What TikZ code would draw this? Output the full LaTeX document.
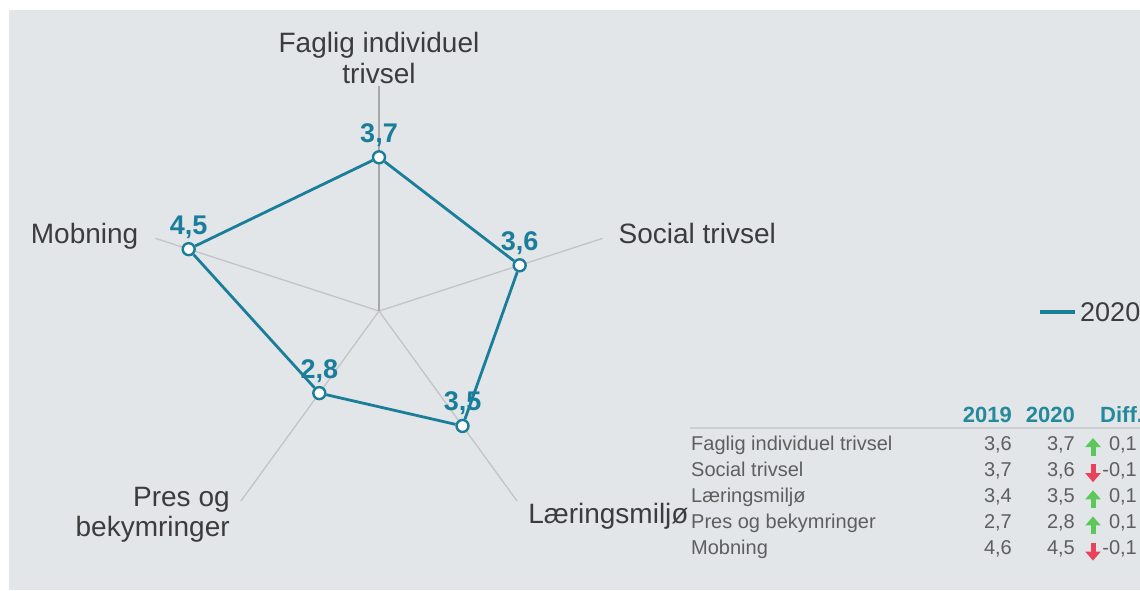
\documentclass[tikz,border=0pt]{standalone}
\usepackage{fontspec}
\setmainfont{Liberation Sans}
\usetikzlibrary{positioning,calc,arrows.meta}

\definecolor{panel}{HTML}{E2E6E9}
\definecolor{chartteal}{HTML}{1A7E9B}
\definecolor{headteal}{HTML}{23899B}
\definecolor{gridgray}{HTML}{C2C4C6}
\definecolor{labtext}{HTML}{3C3C3C}
\definecolor{rowtext}{HTML}{5E5E5E}
\definecolor{upgreen}{HTML}{5CC85A}
\definecolor{downred}{HTML}{E8435A}

\begin{document}
\begin{tikzpicture}[x=1pt, y=1pt,
    axis/.style={draw=gridgray, line width=1.3pt},
    mainaxis/.style={draw=gridgray!85!black, line width=2.2pt},
    area/.style={draw=chartteal, line width=2.8pt, line join=round},
    point/.style={circle, draw=chartteal, fill=white, line width=2.4pt, minimum size=12pt, inner sep=0pt},
    val/.style={text=chartteal, font=\bfseries\fontsize{27}{29}\selectfont, inner sep=0pt},
    lab/.style={text=labtext, font=\fontsize{28}{31}\selectfont, inner sep=0pt},
    row/.style={text=rowtext, font=\fontsize{20}{22}\selectfont, inner sep=0pt, text height=15pt, text depth=4.5pt},
    head/.style={text=headteal, font=\bfseries\fontsize{22}{24}\selectfont, inner sep=0pt},
    rule/.style={draw=gridgray!70!panel, line width=2pt},
    uparr/.style={draw=upgreen, line width=5pt, -{Triangle[width=15pt,length=9pt]}},
    downarr/.style={draw=downred, line width=5pt, -{Triangle[width=15pt,length=9pt]}},
    legline/.style={draw=chartteal, line width=4pt},
    legtext/.style={text=labtext, font=\fontsize{27}{29}\selectfont, inner sep=0pt}
]

\useasboundingbox (0,0) rectangle (1140,590);
\clip (0,0) rectangle (1140,590);
\fill[white] (0,0) rectangle (1140,590);
\fill[panel] (9,0) rectangle (1140,580);

% radar axes
\coordinate (c) at (379,279);
\coordinate (e1) at ($(c)+(90:225)$);
\coordinate (e2) at ($(c)+(18:235)$);
\coordinate (e3) at ($(c)+(-54:235)$);
\coordinate (e4) at ($(c)+(-126:235)$);
\coordinate (e5) at ($(c)+(162:235)$);
\draw[axis] (c) -- (e2);
\draw[axis] (c) -- (e3);
\draw[axis] (c) -- (e4);
\draw[axis] (c) -- (e5);
\draw[mainaxis] (c) -- (e1);

% axis labels
\node[lab, align=center, anchor=south] (l1) at ([yshift=2]e1) {Faglig individuel\\trivsel};
\node[lab, anchor=base west] (l2) at ([shift={(16,-5)}]e2) {Social trivsel};
\node[lab, anchor=base west] (l3) at ([shift={(11,-22)}]e3) {Læringsmiljø};
\node[lab, align=right, anchor=north east, font=\fontsize{28}{30}\selectfont] (l4) at ([shift={(-11,14)}]e4) {Pres og\\bekymringer};
\node[lab, anchor=base east] (l5) at ([shift={(-17,-5)}]e5) {Mobning};

% 2020 values, radius = 58*(v-1.05)
\node[point] (p1) at ($(c)+(90:153.7)$) {};
\node[point] (p2) at ($(c)+(18:147.9)$) {};
\node[point] (p3) at ($(c)+(-54:142.1)$) {};
\node[point] (p4) at ($(c)+(-126:101.5)$) {};
\node[point] (p5) at ($(c)+(162:200.1)$) {};
\draw[area] (p1) -- (p2) -- (p3) -- (p4) -- (p5) -- (p1);

\node[val, anchor=base] (v1) at ([yshift=15]p1.center) {3,7};
\node[val, anchor=base] (v2) at ([yshift=15]p2.center) {3,6};
\node[val, anchor=base] (v3) at ([yshift=15]p3.center) {3,5};
\node[val, anchor=base] (v4) at ([yshift=15]p4.center) {2,8};
\node[val, anchor=base] (v5) at ([yshift=15]p5.center) {4,5};

% legend
\node[legtext, anchor=west] (lg) at (1080,278) {2020};
\coordinate (lgs) at (1040,278);
\draw[legline] (lgs) -- ([xshift=-5]lg.west);

% table
\coordinate (c19) at (1012,0);
\coordinate (c20) at (1075,0);
\coordinate (car) at (1093,0);
\coordinate (cdf) at (1137,0);

\node[head, anchor=base east] (h19) at (c19 |- 0,168) {2019};
\node[head, anchor=base east] (h20) at (c20 |- 0,168) {2020};
\node[head, anchor=base west] (hdf) at (1100,168) {Diff.};
\draw[rule] (690,162) -- (1140,162);

\node[row, anchor=base west] (n1) at (691,140) {Faglig individuel trivsel};
\node[row, below right=6.25pt and 0pt of n1.south west] (n2) {Social trivsel};
\node[row, below right=6.25pt and 0pt of n2.south west] (n3) {Læringsmiljø};
\node[row, below right=6.25pt and 0pt of n3.south west] (n4) {Pres og bekymringer};
\node[row, below right=6.25pt and 0pt of n4.south west] (n5) {Mobning};

\node[row, anchor=base east] (a1) at (c19 |- n1.base) {3,6};
\node[row, anchor=base east] (a2) at (c19 |- n2.base) {3,7};
\node[row, anchor=base east] (a3) at (c19 |- n3.base) {3,4};
\node[row, anchor=base east] (a4) at (c19 |- n4.base) {2,7};
\node[row, anchor=base east] (a5) at (c19 |- n5.base) {4,6};

\node[row, anchor=base east] (b1) at (c20 |- n1.base) {3,7};
\node[row, anchor=base east] (b2) at (c20 |- n2.base) {3,6};
\node[row, anchor=base east] (b3) at (c20 |- n3.base) {3,5};
\node[row, anchor=base east] (b4) at (c20 |- n4.base) {2,8};
\node[row, anchor=base east] (b5) at (c20 |- n5.base) {4,5};

\draw[uparr] ([yshift=-6]car |- n1.base) -- ([yshift=12]car |- n1.base);
\draw[downarr] ([yshift=12]car |- n2.base) -- ([yshift=-6]car |- n2.base);
\draw[uparr] ([yshift=-6]car |- n3.base) -- ([yshift=12]car |- n3.base);
\draw[uparr] ([yshift=-6]car |- n4.base) -- ([yshift=12]car |- n4.base);
\draw[downarr] ([yshift=12]car |- n5.base) -- ([yshift=-6]car |- n5.base);

\node[row, anchor=base east] (d1) at (cdf |- n1.base) {0,1};
\node[row, anchor=base east] (d2) at (cdf |- n2.base) {-0,1};
\node[row, anchor=base east] (d3) at (cdf |- n3.base) {0,1};
\node[row, anchor=base east] (d4) at (cdf |- n4.base) {0,1};
\node[row, anchor=base east] (d5) at (cdf |- n5.base) {-0,1};

\end{tikzpicture}
\end{document}
